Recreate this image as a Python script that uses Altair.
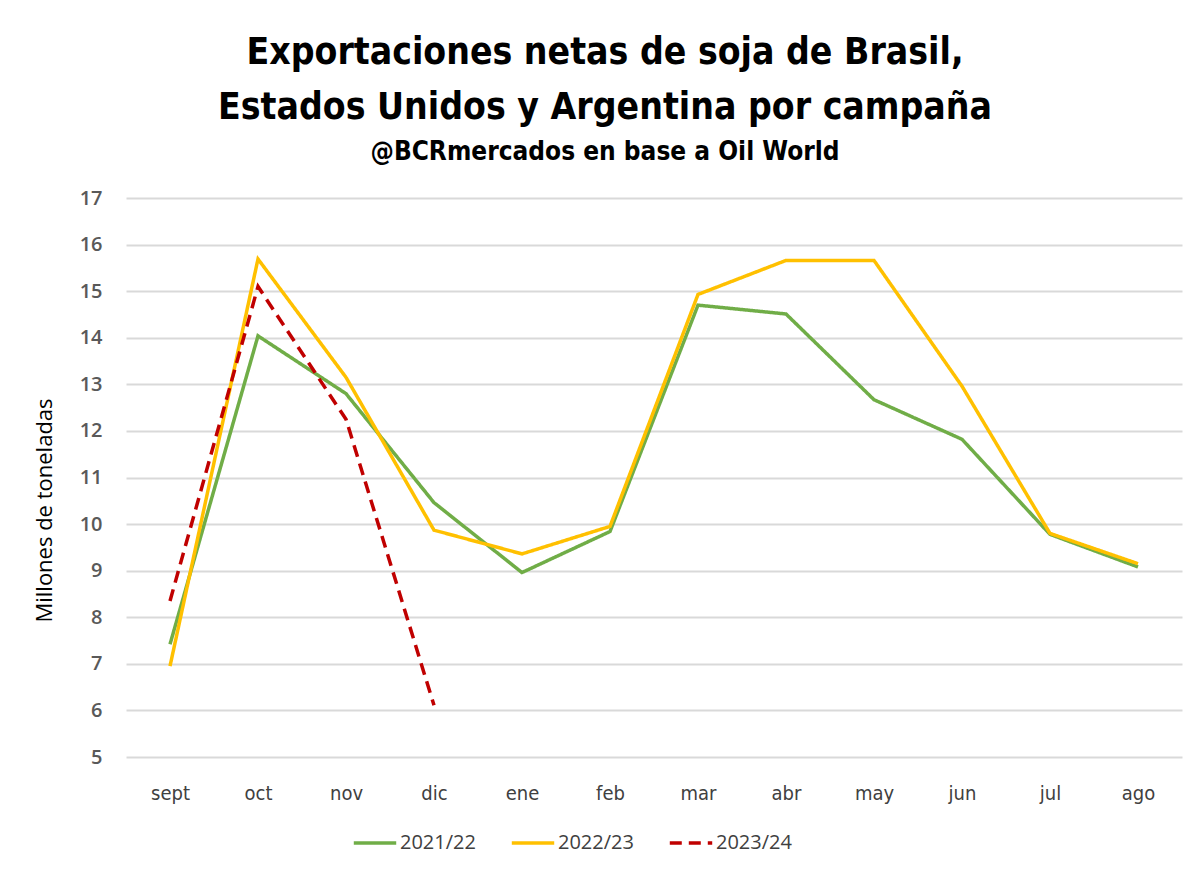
import altair as alt
import pandas as pd

months = ["sept", "oct", "nov", "dic", "ene", "feb", "mar", "abr", "may", "jun", "jul", "ago"]
s2122 = [7.42, 14.04, 12.8, 10.46, 8.96, 9.84, 14.7, 14.51, 12.67, 11.82, 9.78, 9.08]
s2223 = [6.95, 15.69, 13.15, 9.87, 9.36, 9.95, 14.93, 15.66, 15.66, 12.96, 9.8, 9.15]
s2324 = [8.35, 15.1, 12.25, 6.11]
series = ["2021/22", "2022/23", "2023/24"]
colors = ["#70ad47", "#ffc000", "#c00000"]

rows = []
for name, vals in zip(series, [s2122, s2223, s2324]):
    for m, v in zip(months, vals):
        rows.append({"mes": m, "valor": v, "campaña": name})
df = pd.DataFrame(rows)

TFONT = "DejaVu Sans Condensed"

chart = alt.Chart(df).mark_line().encode(
    x=alt.X("mes:N", sort=months, scale=alt.Scale(type="point", padding=0.5),
            axis=alt.Axis(title=None, labelAngle=0, labelFontSize=20, labelColor="#404040",
                          labelFont=TFONT, labelPadding=26,
                          ticks=False, domain=False, grid=False)),
    y=alt.Y("valor:Q", scale=alt.Scale(domain=[5, 17], nice=False, zero=False),
            axis=alt.Axis(title="Millones de toneladas", values=list(range(5, 18)),
                          labelFontSize=20, labelColor="#595959", labelFont="Open Sans",
                          labelFontWeight=600, labelPadding=24,
                          titleFontSize=22, titleFont="Open Sans", titleFontWeight="normal",
                          titleColor="#000000", titleAngle=270, titleX=-82, titleY=312,
                          titleAlign="center", titleBaseline="middle",
                          ticks=False, domain=False, grid=True, gridColor="#d9d9d9",
                          gridWidth=2)),
    color=alt.Color("campaña:N", scale=alt.Scale(domain=series, range=colors),
                    legend=alt.Legend(title=None, orient="none", direction="horizontal",
                                      legendX=226, legendY=622, symbolType="stroke",
                                      symbolSize=1800, symbolStrokeWidth=4,
                                      labelFontSize=20, labelColor="#404040",
                                      labelFont="Open Sans", columnPadding=28,
                                      labelOffset=2)),
    strokeDash=alt.StrokeDash("campaña:N", scale=alt.Scale(domain=series, range=[[1, 0], [1, 0], [12, 7]]),
                              legend=None),
    strokeWidth=alt.StrokeWidth("campaña:N", scale=alt.Scale(domain=series, range=[3.5, 3.5, 5]),
                                legend=None),
).properties(
    width=1056,
    height=559,
    title=alt.TitleParams(
        text=["Exportaciones netas de soja de Brasil,", "Estados Unidos y Argentina por campaña"],
        subtitle="@BCRmercados en base a Oil World",
        font=TFONT, fontSize=37, fontWeight="bold", color="#000000",
        lineHeight=55, subtitleFont=TFONT, subtitleFontSize=26,
        subtitleFontWeight="bold", subtitleColor="#000000", subtitlePadding=12,
        anchor="middle", dx=-49, offset=22,
    ),
    autosize=alt.AutoSizeParams(type="none"),
    padding={"left": 118, "top": 190, "right": 10, "bottom": 110},
).configure(background="white").configure_view(strokeWidth=0)

chart.save("out.html", embed_options={"renderer": "svg", "actions": False})
